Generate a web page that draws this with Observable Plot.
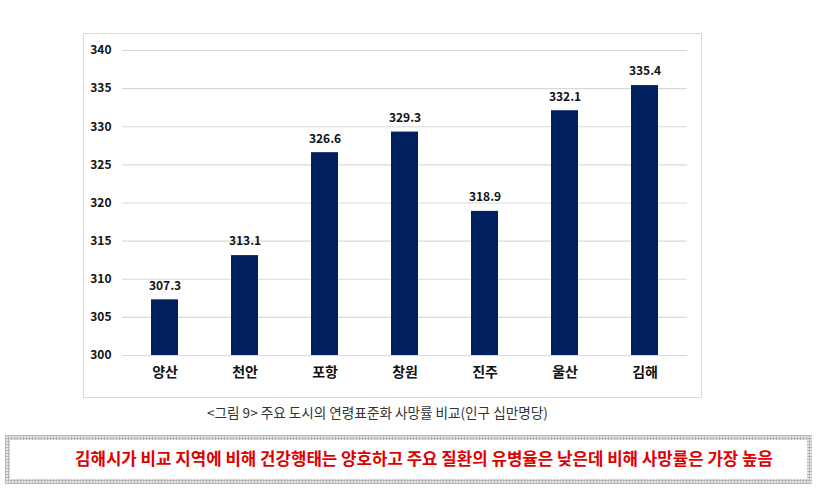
<!DOCTYPE html>
<html><head><meta charset="utf-8">
<script src="https://cdn.jsdelivr.net/npm/d3@7"></script>
<script src="https://cdn.jsdelivr.net/npm/@observablehq/plot@0.6"></script>
<style>
body{margin:0;background:#fff;width:826px;height:496px;position:relative;overflow:hidden;font-family:"Noto Sans CJK KR",sans-serif;}
#chart{position:absolute;left:83px;top:33px;width:617px;height:363px;border:1px solid #d9d9d9;}
#chart svg{display:block;}
#caption{position:absolute;left:207px;top:402px;font-size:13.6px;color:#333;white-space:nowrap;}
#box{position:absolute;left:5px;top:435px;width:807px;height:49px;
 background-color:#e6e6e6;
 background-image:repeating-linear-gradient(0deg,#b8b8b8 0 1px,transparent 1px 3px),repeating-linear-gradient(90deg,#b8b8b8 0 1px,transparent 1px 3px);}
#inner{position:absolute;left:5px;top:5px;right:5px;bottom:5px;background:#fff;}
#msg{position:absolute;left:65px;top:6px;color:#e00000;font-weight:bold;font-size:16.8px;white-space:nowrap;}
</style></head><body>
<div id="chart"></div>
<div id="caption">&lt;그림 9&gt; 주요 도시의 연령표준화 사망률 비교(인구 십만명당)</div>
<div id="box"><div id="inner"><div id="msg">김해시가 비교 지역에 비해 건강행태는 양호하고 주요 질환의 유병율은 낮은데 비해 사망률은 가장 높음</div></div></div>
<script>
const cities = ["양산","천안","포항","창원","진주","울산","김해"];
const rates = [307.3,313.1,326.6,329.3,318.9,332.1,335.4];
const yTicks = [300,305,310,315,320,325,330,335,340];
const data = cities.map((c,i)=>({city:c, rate:rates[i]}));
const chart = Plot.plot({
  width:617, height:363,
  marginLeft:38, marginRight:14, marginTop:16, marginBottom:42,
  style:{fontFamily:"'Noto Sans CJK KR', sans-serif", background:"#fff"},
  x:{domain:cities, paddingInner:0.665, paddingOuter:0.3325, label:null, tickSize:0, tickPadding:12},
  y:{domain:[300,340], ticks:yTicks, label:null, tickSize:0, tickPadding:11, tickFormat:d=>d},
  marks:[
    Plot.gridY(yTicks,{stroke:"#d9d9d9", strokeOpacity:1, strokeWidth:1.2}),
    Plot.barY(data,{x:"city", y1:300, y2:"rate", fill:"#002060"}),
    Plot.text(data,{x:"city", y:"rate", text:d=>d.rate.toFixed(1), dy:-14, fontSize:12, fontWeight:"bold", fill:"#111"})
  ]
});
d3.select(chart).selectAll("[aria-label='y-axis tick label']").attr("font-size",12).attr("font-weight","bold").attr("fill","#111");
d3.select(chart).selectAll("[aria-label='x-axis tick label']").attr("font-size",14).attr("font-weight","bold").attr("fill","#111");
document.getElementById("chart").appendChild(chart);
</script>
</body></html>
